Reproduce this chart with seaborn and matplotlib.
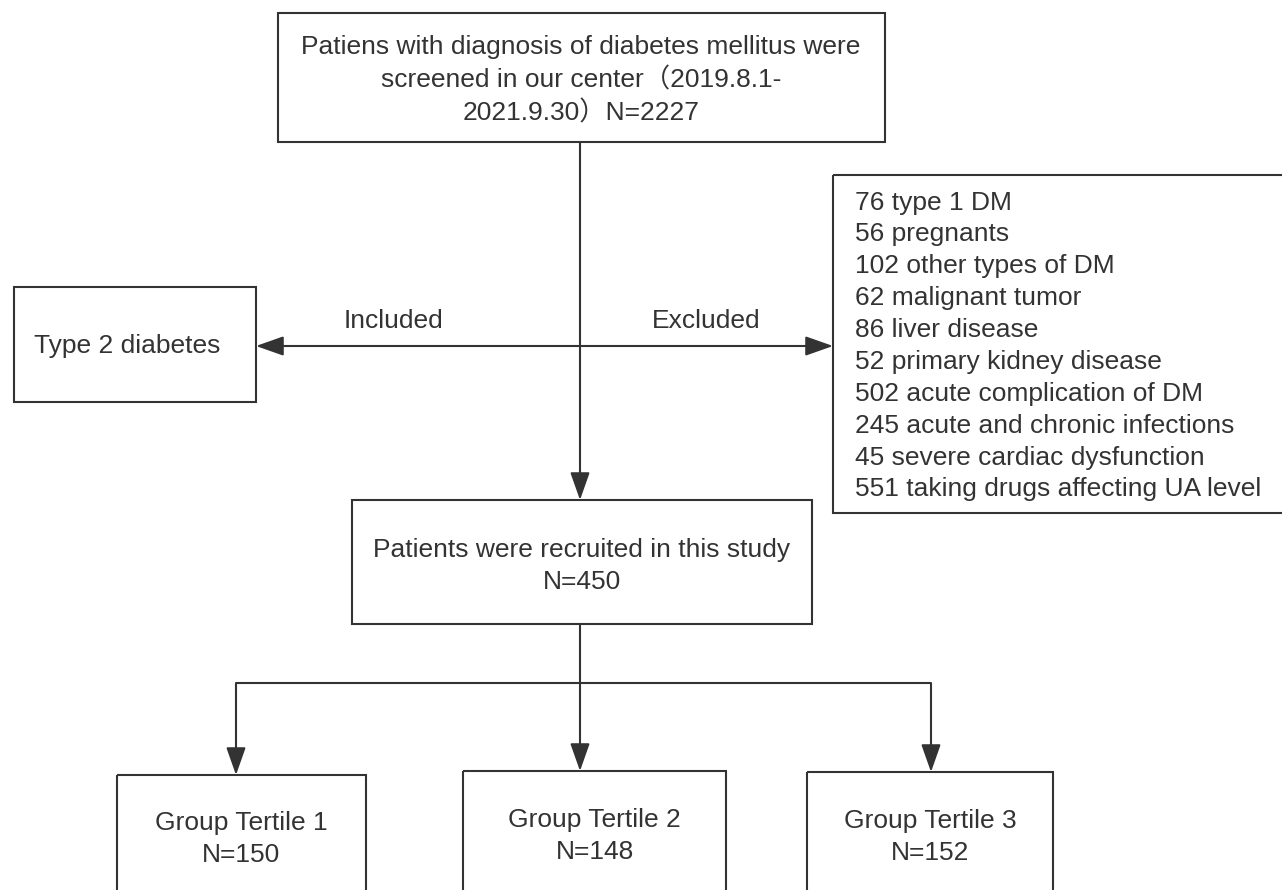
import matplotlib
matplotlib.use("Agg")
import seaborn as sns
import matplotlib.pyplot as plt
from matplotlib.patches import Rectangle

# flowchart content
screen_text = "Patiens with diagnosis of diabetes mellitus were\nscreened in our center（2019.8.1-\n2021.9.30）N=2227"
included_label = "Type 2 diabetes"
excluded_counts = [76, 56, 102, 62, 86, 52, 502, 245, 45, 551]
excluded_reasons = ["type 1 DM", "pregnants", "other types of DM", "malignant tumor",
                    "liver disease", "primary kidney disease", "acute complication of DM",
                    "acute and chronic infections", "severe cardiac dysfunction",
                    "taking drugs affecting UA level"]
recruited_n = 450
group_names = ["Group Tertile 1", "Group Tertile 2", "Group Tertile 3"]
group_n = [150, 148, 152]

sns.set_theme(style="white")
plt.rcParams["font.family"] = ["Liberation Sans", "Noto Sans CJK SC", "DejaVu Sans"]

ink = "#333333"
fs = 19
lw = 1.5

fig = plt.figure(figsize=(12.82, 8.90), dpi=100)
ax = fig.add_axes([0, 0, 1, 1])
ax.set_xlim(0, 1282)
ax.set_ylim(890, 0)
ax.axis("off")


def box(x0, y0, x1, y1):
    ax.add_patch(Rectangle((x0, y0), x1 - x0, y1 - y0, fill=False,
                           edgecolor=ink, linewidth=lw, clip_on=True))


def arrow(x0, y0, x1, y1):
    ax.annotate("", xy=(x1, y1), xytext=(x0, y0),
                arrowprops=dict(arrowstyle="-|>,head_length=1.7,head_width=0.6",
                                mutation_scale=10, color=ink, lw=lw,
                                shrinkA=0, shrinkB=0))


def line(xs, ys):
    ax.plot(xs, ys, color=ink, lw=lw, solid_capstyle="butt")


# boxes
box(278, 13, 885, 142)
box(14, 287, 256, 402)
box(833, 175, 1290, 513)
box(352, 500, 812, 624)
box(117, 775, 366, 900)
box(463, 771, 726, 900)
box(807, 772, 1053, 900)

# texts
ax.text(581, 80, screen_text, ha="center", va="center", fontsize=fs,
        color=ink, linespacing=1.4)
ax.text(127, 346, included_label, ha="center", va="center", fontsize=fs, color=ink)
excl = "\n".join(f"{c} {r}" for c, r in zip(excluded_counts, excluded_reasons))
ax.text(855, 346, excl, ha="left", va="center", fontsize=fs, color=ink,
        linespacing=1.415)
ax.text(582, 566, f"Patients were recruited in this study\nN={recruited_n}",
        ha="center", va="center", fontsize=fs, color=ink, linespacing=1.42)
ax.text(394, 321, "Included", ha="center", va="center", fontsize=fs, color=ink)
ax.text(706, 321, "Excluded", ha="center", va="center", fontsize=fs, color=ink)

group_x = [(117 + 366) / 2, (463 + 726) / 2, (807 + 1053) / 2]
group_y = [839, 836, 837]
for gx, gy, name, n in zip(group_x, group_y, group_names, group_n):
    ax.text(gx, gy, f"{name}\nN={n}", ha="center", va="center", fontsize=fs,
            color=ink, linespacing=1.46)

# connectors
line([580, 580], [142, 480])
arrow(580, 470, 580, 500)
arrow(580, 346, 256, 346)
arrow(580, 346, 833, 346)
line([580, 580], [624, 683])
line([236, 931], [683, 683])
arrow(236, 683, 236, 775)
arrow(580, 683, 580, 771)
arrow(931, 683, 931, 772)

fig.savefig("out.png", dpi=100)
plt.close(fig)
